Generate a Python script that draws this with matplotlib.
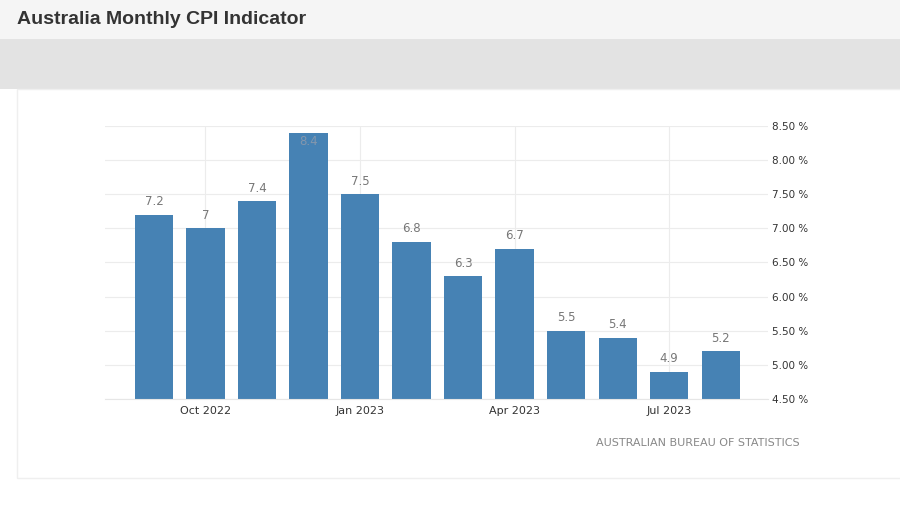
import matplotlib.pyplot as plt
from matplotlib.patches import Rectangle

# data (Sep 2022 .. Aug 2023)
months = ['Sep 2022', 'Oct 2022', 'Nov 2022', 'Dec 2022', 'Jan 2023', 'Feb 2023',
          'Mar 2023', 'Apr 2023', 'May 2023', 'Jun 2023', 'Jul 2023', 'Aug 2023']
cpi = [7.2, 7.0, 7.4, 8.4, 7.5, 6.8, 6.3, 6.7, 5.5, 5.4, 4.9, 5.2]
value_labels = ['7.2', '7', '7.4', '8.4', '7.5', '6.8', '6.3', '6.7', '5.5', '5.4', '4.9', '5.2']
tick_months = ['Oct 2022', 'Jan 2023', 'Apr 2023', 'Jul 2023']
yticks = [4.5, 5.0, 5.5, 6.0, 6.5, 7.0, 7.5, 8.0, 8.5]

W, H = 900, 511
fig = plt.figure(figsize=(W / 100, H / 100), dpi=100)
fig.patch.set_facecolor('white')

# page bands behind the chart
fig.patches.append(Rectangle((0, 1 - 39 / H), 1, 39 / H, transform=fig.transFigure,
                             facecolor='#f5f5f5', edgecolor='none', zorder=0))
fig.patches.append(Rectangle((0, 1 - 89 / H), 1, 50 / H, transform=fig.transFigure,
                             facecolor='#e3e3e3', edgecolor='none', zorder=0))
fig.patches.append(Rectangle((17 / W, 1 - 478 / H), 1, (478 - 89) / H, transform=fig.transFigure,
                             facecolor='none', edgecolor='#efefef', linewidth=1, zorder=0))

fig.text(17 / W, 1 - 19 / H, 'Australia Monthly CPI Indicator', ha='left', va='center',
         fontsize=14, fontweight='bold', color='#333333', family='Liberation Sans')

ax = fig.add_axes([105 / W, 1 - 399 / H, (768 - 105) / W, (399 - 126) / H])
ax.set_facecolor('none')

x = list(range(len(months)))
ax.bar(x, cpi, width=0.74, color='#4682b4', zorder=2)

ymax = 8.5
for i, v in enumerate(cpi):
    if v + 0.2 > ymax:
        ax.annotate(value_labels[i], (i, v), xytext=(0, -6.5), textcoords='offset points',
                    ha='center', va='center', fontsize=8.5, color='#8497ad', zorder=3)
    else:
        ax.annotate(value_labels[i], (i, v), xytext=(0, 9.4), textcoords='offset points',
                    ha='center', va='center', fontsize=8.5, color='#777777', zorder=3)

ax.set_xlim(-0.95, 11.92)
ax.set_ylim(4.5, 8.5)

ax.set_xticks([months.index(m) for m in tick_months])
ax.set_xticklabels(tick_months)
ax.set_yticks(yticks)
ax.set_yticklabels(['%.2f %%' % t for t in yticks])
ax.yaxis.tick_right()
ax.tick_params(axis='both', length=0, colors='#333333')
ax.tick_params(axis='x', pad=5, labelsize=8)
ax.tick_params(axis='y', pad=3, labelsize=7.5)

ax.grid(True, color='#ececec', linewidth=0.8, zorder=0)
for s in ['top', 'left', 'right']:
    ax.spines[s].set_visible(False)
ax.spines['bottom'].set_color('#e6e6e6')
ax.spines['bottom'].set_linewidth(0.8)

fig.text(800 / W, 1 - 443 / H, 'AUSTRALIAN BUREAU OF STATISTICS', ha='right', va='center',
         fontsize=8, color='#888888')

fig.savefig('out.png', dpi=100)
